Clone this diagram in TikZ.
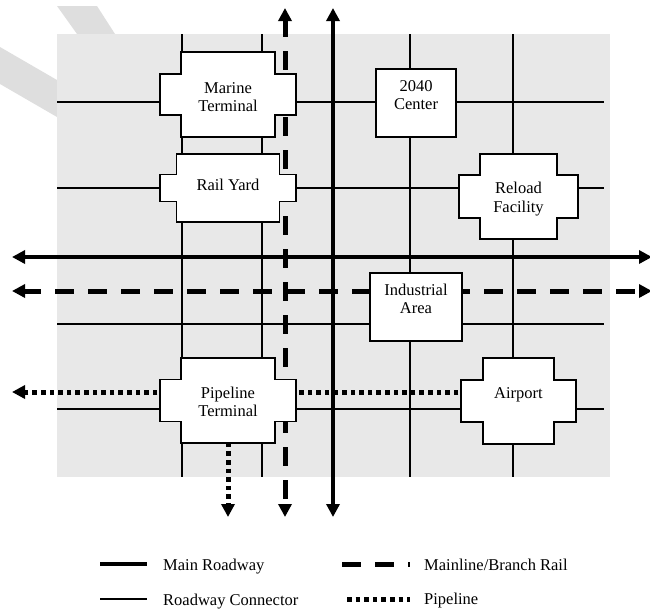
\documentclass[tikz,border=0pt]{standalone}
\usepackage{fontspec}
\setmainfont{Liberation Serif}
\usetikzlibrary{arrows.meta}

\pgfdeclarelayer{bg}
\pgfsetlayers{bg,main}

\definecolor{zone}{HTML}{E8E8E8}
\definecolor{wmark}{HTML}{DEDEDE}

\tikzset{
  >={Triangle[length=13pt,width=13pt]},
  road/.style={line width=1.8pt},
  mainroad/.style={line width=4.5pt},
  rail/.style={line width=5pt, dash pattern=on 19pt off 14pt, dash phase=2pt},
  pipeline/.style={line width=5pt, dash pattern=on 4.6pt off 4pt},
  hubline/.style={draw, fill=white, line width=1.8pt},
  placetext/.style={align=center, inner sep=0pt, outer sep=0pt,
    font=\fontsize{16.5}{18.5}\selectfont},
  keytext/.style={anchor=base west, inner sep=0pt,
    font=\fontsize{16.5}{18.5}\selectfont}
}

% name, cx, cy, text y, narrow half w, half h, wide half w, half h, text
\newcommand{\hub}[9]{%
  \begin{scope}[shift={(#2,#3)}]
    \draw[hubline] (-#5,-#6) -- (#5,-#6) -- (#5,-#8) -- (#7,-#8) -- (#7,#8)
      -- (#5,#8) -- (#5,#6) -- (-#5,#6) -- (-#5,#8) -- (-#7,#8)
      -- (-#7,-#8) -- (-#5,-#8) -- cycle;
  \end{scope}
  \node[placetext] (#1) at (#2,#4) {#9};
}

\begin{document}
\begin{tikzpicture}[x=1pt,y=-1pt]
  \useasboundingbox (0,0) rectangle (650,608);

  % places
  \hub{mt}{228}{94.5}{97}{47}{42.5}{68}{20.5}{Marine\\Terminal}
  \hub{ry}{228}{188}{185}{51.5}{34}{68}{13.5}{Rail Yard}
  \hub{rf}{518.5}{196.5}{199}{38.5}{42.5}{59.5}{21.5}{Reload\\Facility}
  \hub{pt}{228}{400.5}{402}{47}{42.5}{68}{21}{Pipeline\\Terminal}
  \hub{ap}{518.5}{401}{394.5}{35.5}{43}{57.5}{21}{Airport}
  \draw[hubline] (376,69) rectangle (456,137);
  \node[placetext] (ctr) at (416,95) {2040\\Center};
  \draw[hubline] (370,273) rectangle (462,341);
  \node[placetext] (ia) at (416,299) {Industrial\\Area};

  \coordinate (rn) at (333,8);
  \coordinate (rs) at (333,517);
  \coordinate (rw) at (12,257);
  \coordinate (re) at (652,257);
  \coordinate (ln) at (285,8);
  \coordinate (ls) at (285,517);
  \coordinate (lw) at (12,291);
  \coordinate (le) at (652,291);
  \coordinate (pw) at (12,392);
  \coordinate (ps) at (228,517);

  \begin{pgfonlayer}{bg}
    \fill[wmark] (57,6) -- (97,6) -- (115,34) -- (77,34) -- cycle;
    \fill[wmark] (0,47) -- (57,80) -- (57,117) -- (0,84) -- cycle;
    \fill[zone] (57,34) rectangle (610,477);

    \foreach \x in {182,262,410,513}
      \draw[road] (\x,34) -- (\x,477);
    \foreach \y in {102,188,324,409}
      \draw[road] (57,\y) -- (604,\y);

    \draw[mainroad,<->] (rn) -- (rs);
    \draw[mainroad,<->] (rw) -- (re);
    \draw[rail,<->] (ln) -- (ls);
    \draw[rail,<->] (lw) -- (le);
    \draw[pipeline,->] (ap |- pw) -- (pw);
    \draw[pipeline,->] (pt) -- (ps);
  \end{pgfonlayer}

  % key
  \draw[mainroad] (100,564) -- (147,564);
  \node[keytext] (k1) at (163,570.5) {Main Roadway};
  \draw[road] (100,599) -- (147,599);
  \node[keytext] (k2) at (163,605) {Roadway Connector};
  \draw[line width=5pt, dash pattern=on 19pt off 14pt] (342,564) -- (410,564);
  \node[keytext] (k3) at (424,570.5) {Mainline/Branch Rail};
  \draw[pipeline] (347,599) -- (410,599);
  \node[keytext] (k4) at (424,604.5) {Pipeline};
\end{tikzpicture}
\end{document}
